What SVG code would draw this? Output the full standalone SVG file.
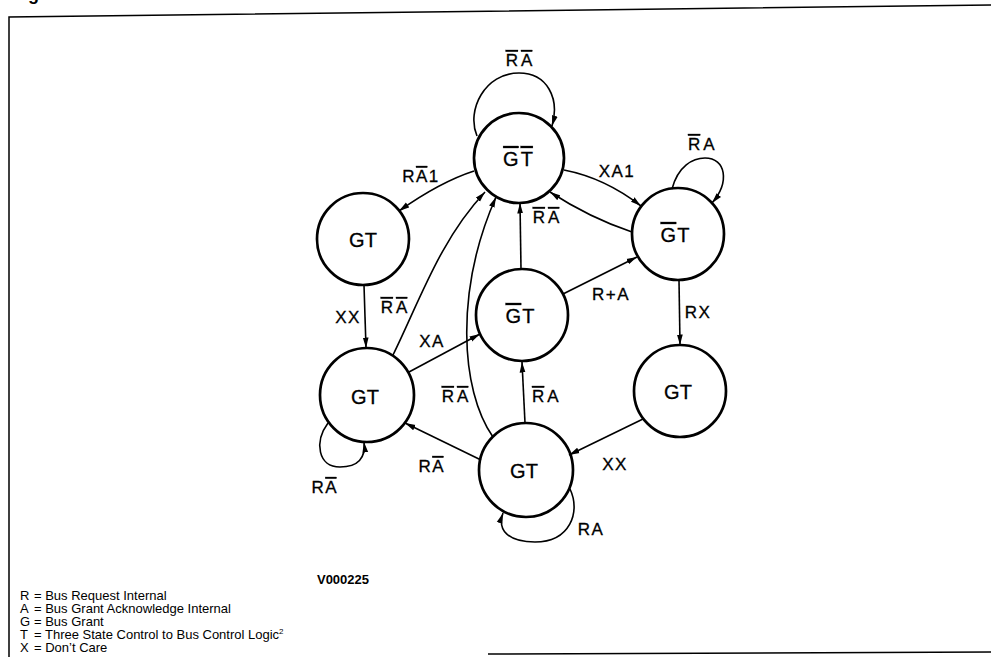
<svg xmlns="http://www.w3.org/2000/svg" width="991" height="657" viewBox="0 0 991 657">
<style>
.node circle{fill:none;stroke:#000;stroke-width:2.7}
.nl{font-family:"Liberation Sans",Arial,sans-serif;font-size:20px;text-anchor:middle;fill:#000;stroke:#000;stroke-width:0.3}
.el{font-family:"Liberation Sans",Arial,sans-serif;font-size:17px;letter-spacing:1.5px;text-anchor:middle;fill:#000;stroke:#000;stroke-width:0.3}
.ob{text-decoration:overline;letter-spacing:0}
#connectors path{fill:none;stroke:#000;stroke-width:1.6;marker-end:url(#arr)}
.leg{font-family:"Liberation Sans",Arial,sans-serif;font-size:13px;fill:#000}
.frame{fill:none;stroke:#000;stroke-width:1.5}
</style>
<defs>
<marker id="arr" markerUnits="userSpaceOnUse" markerWidth="11" markerHeight="7" refX="10.5" refY="3.5" orient="auto">
<path d="M0,0.6 L10.5,3.5 L0,6.4 Z" fill="#000"/>
</marker>
</defs>
<rect width="991" height="657" fill="#fff"/>
<path class="frame" d="M9,657 V17 L991,5"/>
<path class="frame" d="M488,654 L991,652"/>
<text x="28" y="0" style="font-family:'Liberation Sans',Arial,sans-serif;font-size:18px;font-weight:bold">g</text>

<g id="connectors">
<path d="M477,136 C466,110 485,73 519,73 C547,73 560,98 552,126"/>
<path d="M474,171 Q440,182 399,211"/>
<path d="M564,170 Q605,178 641,206"/>
<path d="M632,232 Q590,218 550,192"/>
<path d="M521,269 L520,203"/>
<path d="M563,294 L637,257"/>
<path d="M672,189 C678,166 693,158 705,158 C726,158 730,182 712,203"/>
<path d="M679,280 L680,345"/>
<path d="M643,419 L569,455"/>
<path d="M570,489 C581,512 570,542 535,542 C508,542 497,530 503,513"/>
<path d="M525,423 L522,362"/>
<path d="M481,460 L405,423"/>
<path d="M328,423 C314,442 318,467 340,467 C358,467 366,458 364,442"/>
<path d="M364,285 L366,348"/>
<path d="M393,355 C420,300 440,240 485,192"/>
<path d="M493,437 C460,390 455,290 496,197"/>
<path d="M409,372 L480,334"/>
</g>

<g id="n1" class="node"><circle cx="519" cy="158" r="45"/><text class="nl" x="518" y="166"><tspan class="ob">G</tspan><tspan class="ob" dx="2">T</tspan></text></g>
<g id="n2" class="node"><circle cx="363" cy="239" r="46"/><text class="nl" x="363" y="247">GT</text></g>
<g id="n3" class="node"><circle cx="678" cy="234" r="46"/><text class="nl" x="675" y="242"><tspan class="ob">G</tspan><tspan dx="1">T</tspan></text></g>
<g id="n4" class="node"><circle cx="522" cy="315" r="46"/><text class="nl" x="520" y="323"><tspan class="ob">G</tspan><tspan dx="1">T</tspan></text></g>
<g id="n5" class="node"><circle cx="367" cy="395" r="47"/><text class="nl" x="365" y="404">GT</text></g>
<g id="n6" class="node"><circle cx="680" cy="391" r="46"/><text class="nl" x="678" y="399">GT</text></g>
<g id="n7" class="node"><circle cx="526" cy="470" r="47"/><text class="nl" x="524" y="478">GT</text></g>

<g id="labels">
<text class="el" x="519" y="66"><tspan class="ob">R</tspan><tspan class="ob" dx="3">A</tspan></text>
<text class="el" x="702" y="150"><tspan class="ob">R</tspan><tspan dx="3">A</tspan></text>
<text class="el" x="421" y="182">R<tspan class="ob">A</tspan><tspan dx="1.5">1</tspan></text>
<text class="el" x="617" y="177">XA1</text>
<text class="el" x="546" y="223"><tspan class="ob">R</tspan><tspan class="ob" dx="3">A</tspan></text>
<text class="el" x="611" y="300">R+A</text>
<text class="el" x="698" y="318">RX</text>
<text class="el" x="348" y="323">XX</text>
<text class="el" x="394" y="313"><tspan class="ob">R</tspan><tspan class="ob" dx="3">A</tspan></text>
<text class="el" x="432" y="347">XA</text>
<text class="el" x="455" y="402"><tspan class="ob">R</tspan><tspan class="ob" dx="3">A</tspan></text>
<text class="el" x="546" y="402"><tspan class="ob">R</tspan><tspan dx="3">A</tspan></text>
<text class="el" x="431" y="472">R<tspan class="ob">A</tspan></text>
<text class="el" x="615" y="470">XX</text>
<text class="el" x="591" y="535">RA</text>
<text class="el" x="324" y="493">R<tspan class="ob">A</tspan></text>
</g>

<g id="legend">
<text x="343" y="584" style="font-family:'Liberation Sans',Arial,sans-serif;font-size:13px;font-weight:bold;text-anchor:middle">V000225</text>
<text class="leg" x="20" y="600">R</text><text class="leg" x="34" y="600">= Bus Request Internal</text>
<text class="leg" x="20" y="613">A</text><text class="leg" x="34" y="613">= Bus Grant Acknowledge Internal</text>
<text class="leg" x="20" y="626">G</text><text class="leg" x="34" y="626">= Bus Grant</text>
<text class="leg" x="20" y="639">T</text><text class="leg" x="34" y="639">= Three State Control to Bus Control Logic<tspan dy="-5" font-size="8">2</tspan></text>
<text class="leg" x="20" y="652">X</text><text class="leg" x="34" y="652">= Don’t Care</text>
</g>
</svg>
